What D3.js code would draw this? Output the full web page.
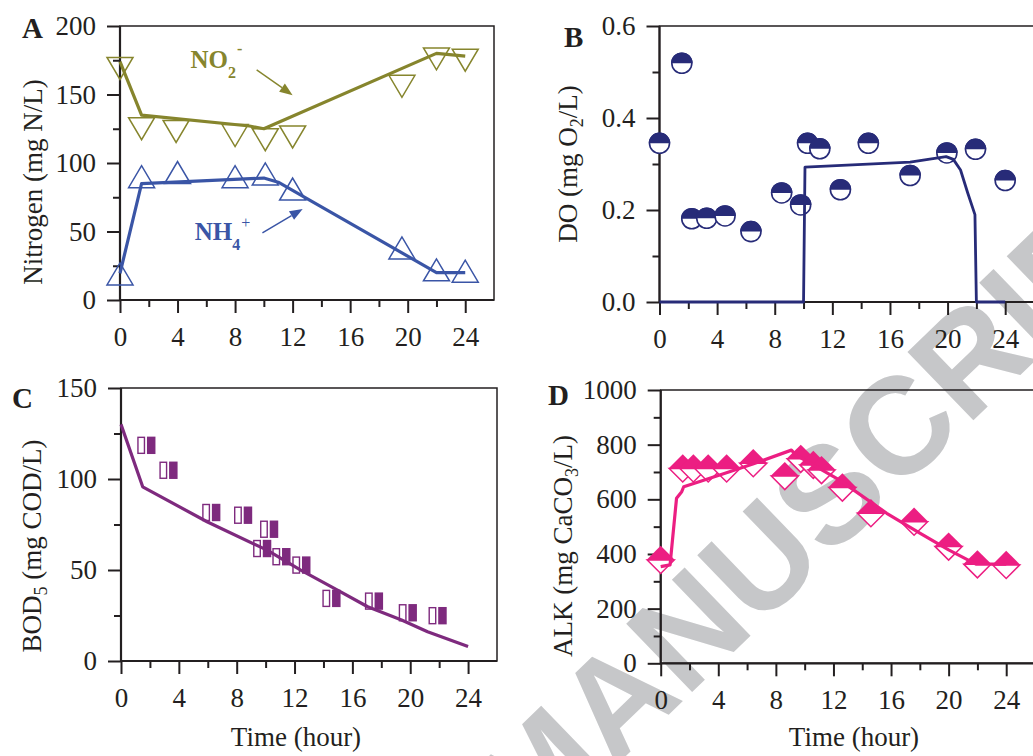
<html lang="en">
<head>
<meta charset="utf-8">
<title>Nitrogen, DO, BOD5 and ALK over 24 h</title>
<style>
  body { margin: 0; background: #fff; }
  text { font-family: "Liberation Serif", "Times New Roman", serif; fill: #231f20; }
  .tick line { stroke: #231f20; stroke-width: 2px; }
  .tick text { font-size: 27px; }
</style>
</head>
<body>
<div id="fig"></div>

<script src="https://d3js.org/d3.v7.min.js"></script>
<script>

// ---------- data ----------
// A: nitrogen
var no2Time = [0, 1.5, 3.9, 8.0, 10.1, 12.0, 19.6, 22.0, 24.0];
var no2Obs = [169, 125, 123, 120, 117, 119, 156, 176, 175];
var no2ModelTime = [0, 1.5, 9, 10, 22, 24];
var no2Model = [174, 135, 127, 125, 180, 178];

var nh4Time = [0, 1.5, 4.0, 8.0, 10.1, 12.0, 19.6, 22.0, 24.0];
var nh4Obs = [19, 90, 93, 90, 92, 81, 38, 22, 21];
var nh4ModelTime = [0, 1.5, 10, 11, 13, 22, 24];
var nh4Model = [19.5, 85, 89, 86, 74, 20, 20];

// B: dissolved oxygen
var doTime = [0, 1.55, 2.24, 3.28, 4.55, 6.35, 8.48, 9.8, 10.28, 11.13, 12.56, 14.5, 17.4, 19.95, 21.94, 24];
var doObs = [0.345, 0.519, 0.181, 0.182, 0.187, 0.153, 0.237, 0.211, 0.345, 0.333, 0.244, 0.345, 0.275, 0.324, 0.332, 0.264];
var doModelTime = [0, 10, 10.1, 17.4, 19.9, 20.4, 20.9, 21.4, 21.9, 22.0, 24];
var doModel = [0, 0, 0.293, 0.304, 0.316, 0.310, 0.287, 0.237, 0.19, 0, 0];

// C: BOD5
var bodTime = [1.76, 3.29, 6.25, 8.45, 9.77, 10.25, 11.1, 12.48, 14.56, 17.5, 19.84, 21.9];
var bodObs = [118.5, 104.8, 81.6, 80.1, 61.8, 72.4, 57.3, 52.7, 34.4, 32.9, 26.5, 24.9];
var bodModelTime = [0, 1.5, 5.95, 10.1, 12.43, 14.75, 17.06, 19.4, 21.2, 24];
var bodModel = [130, 95.7, 76.5, 60.9, 49.9, 39.9, 29.8, 22.5, 16.1, 7.9];

// D: alkalinity
var alkTime = [0, 1.53, 2.27, 3.3, 4.58, 6.43, 8.62, 9.73, 10.6, 11.17, 12.62, 14.6, 17.6, 20, 22, 24];
var alkObs = [378, 713, 713, 713, 713, 732, 685, 748, 726, 707, 643, 549, 518, 427, 362, 360];
var alkModelTime = [0, 0.65, 1.1, 1.46, 1.6, 4.1, 6.4, 9.08, 9.4, 12.4, 15.7, 18, 20, 21.9, 24];
var alkModel = [354, 360, 604, 628, 646, 689, 729, 780, 762, 671, 549, 476, 415, 363, 363];

// ticks
var timeTicks = [0, 4, 8, 12, 16, 20, 24];
var timeMinor = [2, 6, 10, 14, 18, 22];
var nTicks = [0, 50, 100, 150, 200], nMinor = [25, 75, 125, 175];
var doTicks = [0, 0.2, 0.4, 0.6], doMinor = [0.1, 0.3, 0.5];
var bodTicks = [0, 50, 100, 150], bodMinor = [25, 75, 125];
var alkTicks = [0, 200, 400, 600, 800, 1000], alkMinor = [100, 300, 500, 700, 900];

// ---------- drawing ----------
var ink = "#231f20";
var svg = d3.select("#fig").append("svg")
    .attr("width", 1033)
    .attr("height", 756);

svg.append("rect").attr("width", 1033).attr("height", 756).attr("fill", "#fff");

// watermark behind everything (runs off the page, as in the original)
svg.append("text")
    .attr("transform", "translate(862,528) rotate(-44)")
    .attr("text-anchor", "middle")
    .style("font-family", "'Liberation Sans', Arial, sans-serif")
    .style("font-weight", "bold")
    .style("font-size", "138px")
    .style("fill", "#c6c7c9")
    .text("MANUSCRIPT");

function makePanel(box, yDomain, yTicks, yMinor, yFormat) {
    var g = svg.append("g");
    var x = d3.scaleLinear().domain([0, 26]).range([box.left, box.right]);
    var y = d3.scaleLinear().domain(yDomain).range([box.bottom, box.top]);

    var xa = g.append("g").attr("transform", "translate(0," + box.bottom + ")")
        .call(d3.axisBottom(x).tickValues(timeTicks).tickSize(13).tickPadding(14).tickSizeOuter(0));
    var xm = g.append("g").attr("transform", "translate(0," + box.bottom + ")")
        .call(d3.axisBottom(x).tickValues(timeMinor).tickSize(7).tickFormat(""));
    var ya = g.append("g").attr("transform", "translate(" + box.left + ",0)")
        .call(d3.axisLeft(y).tickValues(yTicks).tickSize(13).tickPadding(11).tickFormat(yFormat).tickSizeOuter(0));
    var ym = g.append("g").attr("transform", "translate(" + box.left + ",0)")
        .call(d3.axisLeft(y).tickValues(yMinor).tickSize(7).tickFormat(""));
    [xa, xm, ya, ym].forEach(function(a){
        a.select(".domain").remove();
        a.attr("font-family", null).attr("font-size", null);
    });

    // frame
    g.append("rect")
        .attr("x", box.left).attr("y", box.top)
        .attr("width", box.right - box.left).attr("height", box.bottom - box.top)
        .attr("fill", "none").attr("stroke", ink).attr("stroke-width", 1.5);
    g.append("path")
        .attr("d", "M" + box.left + "," + box.top + "V" + box.bottom + "H" + box.right)
        .attr("fill", "none").attr("stroke", ink).attr("stroke-width", 2.2);

    return {g: g, x: x, y: y};
}

function drawLine(p, t, v, color, w) {
    var line = d3.line().x(function(d){ return p.x(d[0]); }).y(function(d){ return p.y(d[1]); });
    p.g.append("path")
        .datum(d3.zip(t, v))
        .attr("d", line)
        .attr("fill", "none")
        .attr("stroke", color)
        .attr("stroke-width", w)
        .attr("stroke-linejoin", "round");
}

function label(x, y, txt, size, bold, anchor) {
    return svg.append("text").attr("x", x).attr("y", y)
        .attr("text-anchor", anchor || "start")
        .style("font-size", size + "px")
        .style("font-weight", bold ? "bold" : "normal")
        .text(txt);
}

function yTitle(x, y, parts) {
    var t = svg.append("text")
        .attr("transform", "translate(" + x + "," + y + ") rotate(-90)")
        .attr("text-anchor", "middle")
        .style("font-size", "27px");
    parts.forEach(function(p){
        var s = t.append("tspan").text(p.text);
        if (p.dy) s.attr("dy", p.dy);
        if (p.size) s.style("font-size", p.size + "px");
    });
}

function arrow(p, from, to, color) {
    var x1 = p.x(from[0]), y1 = p.y(from[1]), x2 = p.x(to[0]), y2 = p.y(to[1]);
    var a = Math.atan2(y2 - y1, x2 - x1), L = 13, W = 5;
    var bx = x2 - L * Math.cos(a), by = y2 - L * Math.sin(a);
    p.g.append("line").attr("x1", x1).attr("y1", y1).attr("x2", bx).attr("y2", by)
        .attr("stroke", color).attr("stroke-width", 1.4);
    p.g.append("path")
        .attr("d", "M" + x2 + "," + y2 +
            "L" + (bx + W * Math.sin(a)) + "," + (by - W * Math.cos(a)) +
            "L" + (bx - W * Math.sin(a)) + "," + (by + W * Math.cos(a)) + "Z")
        .attr("fill", color);
}

// ----- Panel A -----
var cNO2 = "#86852d", cNH4 = "#3a55a6";
var pA = makePanel({left: 120, right: 494, top: 26, bottom: 300}, [0, 200], nTicks, nMinor, d3.format("d"));
pA.g.selectAll(".no2").data(d3.zip(no2Time, no2Obs)).enter().append("path")
    .attr("transform", function(d){ return "translate(" + pA.x(d[0]) + "," + pA.y(d[1]) + ")"; })
    .attr("d", "M-13,-11L13,-11L0,11Z")
    .attr("fill", "none").attr("stroke", cNO2).attr("stroke-width", 1.5);
pA.g.selectAll(".nh4").data(d3.zip(nh4Time, nh4Obs)).enter().append("path")
    .attr("transform", function(d){ return "translate(" + pA.x(d[0]) + "," + pA.y(d[1]) + ")"; })
    .attr("d", "M-13,11L13,11L0,-11Z")
    .attr("fill", "none").attr("stroke", cNH4).attr("stroke-width", 1.5);
drawLine(pA, no2ModelTime, no2Model, cNO2, 3.2);
drawLine(pA, nh4ModelTime, nh4Model, cNH4, 3.2);
arrow(pA, [9.5, 168], [12.0, 149.5], cNO2);
arrow(pA, [9.9, 49], [12.7, 66.5], cNH4);

var tNO2 = svg.append("text").attr("x", pA.x(4.9)).attr("y", pA.y(169))
    .style("font-size", "25px").style("font-weight", "bold").style("fill", cNO2);
tNO2.append("tspan").text("NO");
tNO2.append("tspan").text("2").attr("dy", 10).style("font-size", "16px");
tNO2.append("tspan").text("-").attr("dy", -24).attr("dx", 1).style("font-size", "16px");
var tNH4 = svg.append("text").attr("x", pA.x(5.2)).attr("y", pA.y(44))
    .style("font-size", "25px").style("font-weight", "bold").style("fill", cNH4);
tNH4.append("tspan").text("NH");
tNH4.append("tspan").text("4").attr("dy", 10).style("font-size", "16px");
tNH4.append("tspan").text("+").attr("dy", -22).attr("dx", 1).style("font-size", "16px").style("font-weight", "normal");

// ----- Panel B -----
var cDO = "#272b78";
var pB = makePanel({left: 659.5, right: 1034, top: 26, bottom: 302}, [0, 0.6], doTicks, doMinor, d3.format(".1f"));
var dots = pB.g.selectAll(".do").data(d3.zip(doTime, doObs)).enter().append("g")
    .attr("transform", function(d){ return "translate(" + pB.x(d[0]) + "," + pB.y(d[1]) + ")"; });
dots.append("circle").attr("r", 10).attr("fill", "#fff").attr("stroke", cDO).attr("stroke-width", 1.6);
dots.append("path").attr("d", "M-10.8,0A10.8,10.8 0 0 1 10.8,0Z").attr("fill", cDO);
drawLine(pB, doModelTime, doModel, cDO, 2.8);

// ----- Panel C -----
var cBOD = "#7e2a7e";
var pC = makePanel({left: 121, right: 497, top: 388, bottom: 661}, [0, 150], bodTicks, bodMinor, d3.format("d"));
var bods = pC.g.selectAll(".bod").data(d3.zip(bodTime, bodObs)).enter().append("g")
    .attr("transform", function(d){ return "translate(" + pC.x(d[0]) + "," + pC.y(d[1]) + ")"; });
bods.append("rect").attr("x", -8.5).attr("y", -8).attr("width", 6.5).attr("height", 16)
    .attr("fill", "#fff").attr("stroke", cBOD).attr("stroke-width", 1.4);
bods.append("rect").attr("x", 0.5).attr("y", -8.7).attr("width", 8.5).attr("height", 17.4)
    .attr("fill", cBOD);
drawLine(pC, bodModelTime, bodModel, cBOD, 3.2);

// ----- Panel D -----
var cALK = "#ec1e82";
var pD = makePanel({left: 660.7, right: 1035, top: 390, bottom: 663.3}, [0, 1000], alkTicks, alkMinor, d3.format("d"));
var alks = pD.g.selectAll(".alk").data(d3.zip(alkTime, alkObs)).enter().append("g")
    .attr("transform", function(d){ return "translate(" + pD.x(d[0]) + "," + pD.y(d[1]) + ")"; });
alks.append("path").attr("d", "M-13.5,0L0,13.5L13.5,0Z")
    .attr("fill", "#fff").attr("stroke", cALK).attr("stroke-width", 1.5).attr("stroke-linejoin", "miter");
alks.append("path").attr("d", "M-14.2,0L0,-14.2L14.2,0Z").attr("fill", cALK);
drawLine(pD, alkModelTime, alkModel, cALK, 3.2);

// ----- labels -----
label(22, 38, "A", 29, true);
label(564, 47, "B", 29, true);
label(12, 408, "C", 29, true);
label(548, 405, "D", 29, true);

yTitle(42, 182, [{text: "Nitrogen (mg N/L)"}]);
yTitle(577, 164, [{text: "DO (mg O"}, {text: "2", dy: 6, size: 18}, {text: "/L)", dy: -6}]);
yTitle(41, 546, [{text: "BOD"}, {text: "5", dy: 6, size: 18}, {text: " (mg COD/L)", dy: -6}]);
yTitle(572, 546, [{text: "ALK (mg CaCO"}, {text: "3", dy: 6, size: 18}, {text: "/L)", dy: -6}]);

label(296, 746, "Time (hour)", 27, false, "middle");
label(854, 746, "Time (hour)", 27, false, "middle");

</script>
</body>
</html>
